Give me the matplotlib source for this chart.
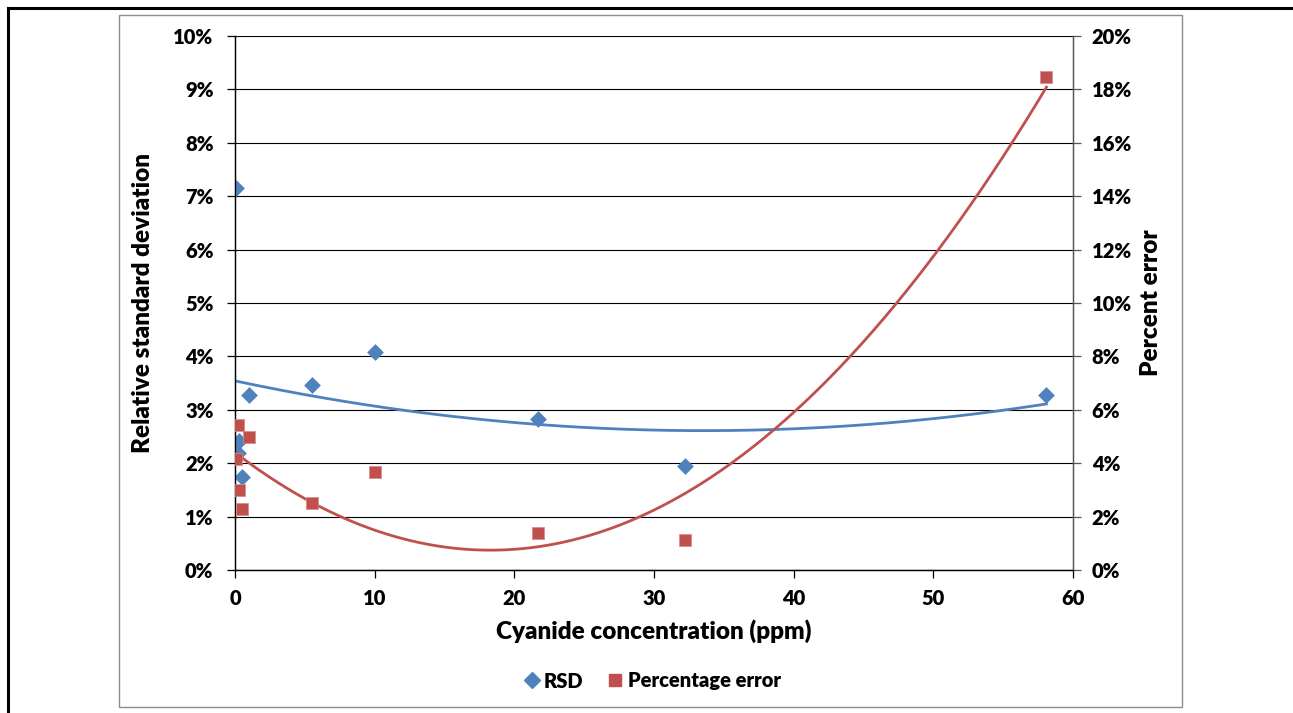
import numpy as np
import matplotlib
matplotlib.use("Agg")
import matplotlib.pyplot as plt
from matplotlib.lines import Line2D
from matplotlib.patches import Rectangle
from matplotlib.ticker import FuncFormatter, MultipleLocator

# Cyanide standards (ppm) with their relative standard deviation and percentage error (%)
conc = [0.1, 0.2, 0.3, 0.5, 1.0, 5.5, 10.0, 21.7, 32.2, 58.1]
rsd = [7.15, 2.19, 2.42, 1.74, 3.28, 3.47, 4.09, 2.83, 1.95, 3.27]
pct_err = [4.15, 5.44, 3.00, 2.29, 4.98, 2.51, 3.69, 1.41, 1.13, 18.47]

x_ticks = [0, 10, 20, 30, 40, 50, 60]
series_names = ["RSD", "Percentage error"]

BLUE = "#4F81BD"
RED = "#C0504D"
WEIGHT = "heavy"

plt.rcParams["font.family"] = ["Lato", "DejaVu Sans"]
plt.rcParams["font.weight"] = WEIGHT

fig = plt.figure(figsize=(12.93, 7.13), dpi=100)
W, H = 1293, 713

# frame lines and chart-area border
fig.add_artist(Line2D([8 / W, 8 / W], [0, 1 - 8 / H], color="black", lw=2.2,
                      transform=fig.transFigure))
fig.add_artist(Line2D([8 / W, 1], [1 - 8 / H, 1 - 8 / H], color="black", lw=2.2,
                      transform=fig.transFigure))
fig.add_artist(Rectangle((119 / W, 1 - 707 / H), (1182 - 119) / W, (707 - 15) / H,
                         transform=fig.transFigure, fill=False,
                         edgecolor="#8c8c8c", lw=1.0))

ax = fig.add_axes([235 / W, 1 - 570.3 / H, (1073 - 235) / W, (570.3 - 35.7) / H])
ax2 = ax.twinx()

x = np.array(conc)
xs = np.linspace(x.min(), x.max(), 300)

# left axis: RSD
ax.set_xlim(0, 60)
ax.set_ylim(0, 10)
ax.yaxis.set_major_locator(MultipleLocator(1))
ax.set_xticks(x_ticks)
ax.yaxis.set_major_formatter(FuncFormatter(lambda v, p: f"{v:.0f}%"))
ax.grid(axis="y", color="black", lw=0.8)
ax.set_axisbelow(True)

# right axis: percentage error
ax2.set_ylim(0, 20)
ax2.yaxis.set_major_locator(MultipleLocator(2))
ax2.yaxis.set_major_formatter(FuncFormatter(lambda v, p: f"{v:.0f}%"))

for a in (ax, ax2):
    a.spines["top"].set_visible(False)
    a.spines["left"].set_color("black")
    a.spines["bottom"].set_color("black")
    a.spines["right"].set_color("#555555")
    for s in a.spines.values():
        s.set_linewidth(0.9)

TICK_FS = 14.5
LABEL_FS = 17.5
ax.tick_params(axis="y", direction="out", length=5.5, width=0.9, pad=10,
               labelsize=TICK_FS, colors="black")
ax.tick_params(axis="x", direction="out", length=5.5, width=0.9, pad=8,
               labelsize=TICK_FS)
ax2.tick_params(axis="y", direction="out", length=5.5, width=0.9, pad=8,
                labelsize=TICK_FS, color="#555555", labelcolor="black")

# polynomial (order 2) trendlines
c_rsd = np.polyfit(x, rsd, 2)
c_err = np.polyfit(x, pct_err, 2)
ax.plot(xs, np.polyval(c_rsd, xs), color=BLUE, lw=2.0, zorder=3)
ax2.plot(xs, np.polyval(c_err, xs), color=RED, lw=2.0, zorder=3)

ax.scatter(x, rsd, marker="D", s=8 ** 2, color=BLUE, edgecolors=BLUE,
           lw=0.5, zorder=4)
ax2.scatter(x, pct_err, marker="s", s=9 ** 2, color=RED, edgecolors="#d98a88",
            lw=0.5, zorder=4)

ax.set_xlabel("Cyanide concentration (ppm)", fontsize=LABEL_FS, fontweight=WEIGHT,
              labelpad=8)
ax.set_ylabel("Relative standard deviation", fontsize=LABEL_FS, fontweight=WEIGHT,
              labelpad=14)
ax2.set_ylabel("Percent error", fontsize=LABEL_FS, fontweight=WEIGHT, labelpad=6)

handles = [
    Line2D([], [], ls="none", marker="D", ms=8, color=BLUE),
    Line2D([], [], ls="none", marker="s", ms=9, color=RED),
]
fig.legend(handles, series_names, loc="center", bbox_to_anchor=(652 / W, 1 - 681 / H),
           ncol=2, frameon=False, handlelength=0.8,
           handletextpad=0.2, columnspacing=1.2,
           prop={"weight": WEIGHT, "size": TICK_FS})

fig.savefig("out.png", dpi=100)
